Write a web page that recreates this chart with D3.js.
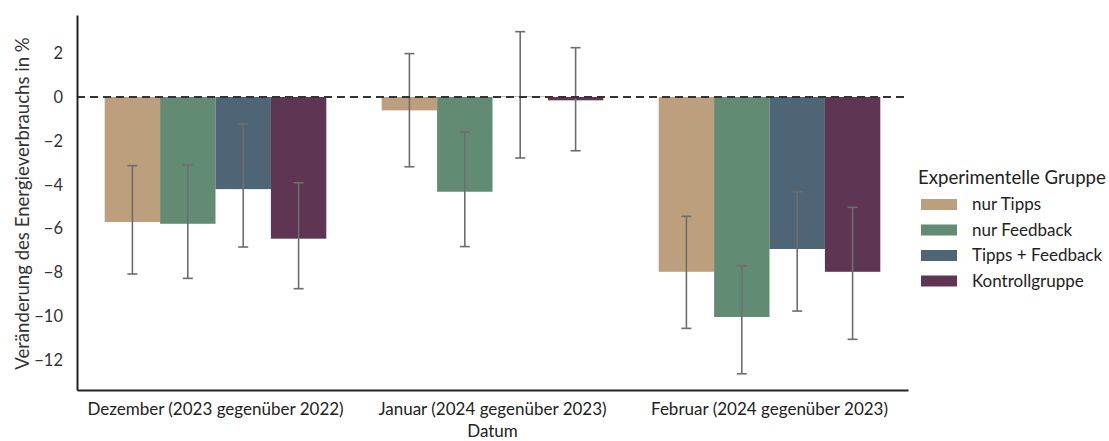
<!DOCTYPE html>
<html>
<head>
<meta charset="utf-8">
<script src="https://cdn.jsdelivr.net/npm/d3@7"></script>
<style>
  html, body { margin: 0; padding: 0; background: #fff; }
  svg { display: block; font-family: Lato, "Noto Sans", sans-serif; }
</style>
</head>
<body>
<svg id="chart" width="1109" height="441"></svg>
<script>
// Monthly change in energy consumption per experimental group, with confidence intervals
const months = ["Dezember (2023 gegenüber 2022)", "Januar (2024 gegenüber 2023)", "Februar (2024 gegenüber 2023)"];
const groups = ["nur Tipps", "nur Feedback", "Tipps + Feedback", "Kontrollgruppe"];
const colors = ["#bca07d", "#628b74", "#4e6575", "#5e3654"];

// mean change in %, one array per group (Dez, Jan, Feb)
const nurTipps       = [-5.70, -0.61, -7.97];
const nurFeedback    = [-5.78, -4.32, -10.03];
const tippsFeedback  = [-4.20,  0.02, -6.93];
const kontrollgruppe = [-6.46, -0.15, -7.97];

// interval bounds (upper / lower)
const nurTippsHi       = [-3.13,  1.98, -5.44];
const nurTippsLo       = [-8.07, -3.18, -10.55];
const nurFeedbackHi    = [-3.10, -1.60, -7.69];
const nurFeedbackLo    = [-8.27, -6.82, -12.62];
const tippsFeedbackHi  = [-1.23,  2.98, -4.32];
const tippsFeedbackLo  = [-6.84, -2.78, -9.76];
const kontrollgruppeHi = [-3.91,  2.25, -5.03];
const kontrollgruppeLo = [-8.74, -2.45, -11.05];

const yTicks = [2, 0, -2, -4, -6, -8, -10, -12];

const means = [nurTipps, nurFeedback, tippsFeedback, kontrollgruppe];
const his = [nurTippsHi, nurFeedbackHi, tippsFeedbackHi, kontrollgruppeHi];
const los = [nurTippsLo, nurFeedbackLo, tippsFeedbackLo, kontrollgruppeLo];

const rows = [];
groups.forEach((g, gi) => months.forEach((m, mi) => {
  rows.push({ month: m, group: g, gi, value: means[gi][mi], hi: his[gi][mi], lo: los[gi][mi] });
}));

const svg = d3.select("#chart");
const margin = { left: 77, right: 201, top: 15, bottom: 51 };
const W = 1109, H = 441;

const x = d3.scaleBand().domain(months).range([margin.left, W - margin.right]).paddingInner(0.2).paddingOuter(0.1);
const xg = d3.scaleBand().domain(groups).range([0, x.bandwidth()]);
const y = d3.scaleLinear().domain([-13.36, 3.74]).range([H - margin.bottom, margin.top]);
const color = d3.scaleOrdinal().domain(groups).range(colors);

// bars
svg.append("g").selectAll("rect").data(rows).join("rect")
  .attr("x", d => x(d.month) + xg(d.group))
  .attr("width", xg.bandwidth())
  .attr("y", d => y(Math.max(0, d.value)))
  .attr("height", d => Math.abs(y(d.value) - y(0)))
  .attr("fill", d => color(d.group));

// error bars
const eb = svg.append("g").attr("stroke", "#6d6d6d").attr("stroke-width", 1.6).attr("fill", "none");
const cap = 5;
rows.forEach(d => {
  const cx = x(d.month) + xg(d.group) + xg.bandwidth() / 2;
  eb.append("line").attr("x1", cx).attr("x2", cx).attr("y1", y(d.hi)).attr("y2", y(d.lo));
  eb.append("line").attr("x1", cx - cap).attr("x2", cx + cap).attr("y1", y(d.hi)).attr("y2", y(d.hi));
  eb.append("line").attr("x1", cx - cap).attr("x2", cx + cap).attr("y1", y(d.lo)).attr("y2", y(d.lo));
});

// zero reference line
svg.append("line")
  .attr("x1", margin.left).attr("x2", W - margin.right)
  .attr("y1", y(0)).attr("y2", y(0))
  .attr("stroke", "#333").attr("stroke-width", 2).attr("stroke-dasharray", "8,5");

// y axis
const yAxis = svg.append("g").attr("transform", `translate(${margin.left},0)`)
  .call(d3.axisLeft(y).tickValues(yTicks).tickSize(0).tickPadding(14)
    .tickFormat(d => d < 0 ? "\u2212" + Math.abs(d) : String(d)));
yAxis.select(".domain").attr("stroke", "#222").attr("stroke-width", 2);
yAxis.selectAll("text").attr("font-size", 16.5).attr("fill", "#333").attr("font-family", "Lato, sans-serif");

// x axis
const xAxis = svg.append("g").attr("transform", `translate(0,${H - margin.bottom})`)
  .call(d3.axisBottom(x).tickSize(0).tickPadding(13));
xAxis.select(".domain").attr("stroke", "#222").attr("stroke-width", 2);
xAxis.selectAll("text").attr("font-size", 17).attr("fill", "#222").attr("font-family", "Lato, sans-serif");

// axis titles
svg.append("text").attr("x", (margin.left + W - margin.right) / 2).attr("y", 437)
  .attr("text-anchor", "middle").attr("font-size", 17).attr("fill", "#222").text("Datum");
svg.append("text")
  .attr("transform", `translate(29,${(margin.top + H - margin.bottom) / 2 + 1}) rotate(-90)`)
  .attr("text-anchor", "middle").attr("font-size", 18.6).attr("fill", "#333")
  .text("Veränderung des Energieverbrauchs in %");

// legend
const lg = svg.append("g").attr("transform", "translate(918,0)");
lg.append("text").attr("x", 0).attr("y", 184).attr("font-size", 18.6).attr("fill", "#222").text("Experimentelle Gruppe");
groups.forEach((g, i) => {
  const yy = 204 + i * 25.5;
  lg.append("rect").attr("x", 3).attr("y", yy - 5).attr("width", 36).attr("height", 11).attr("fill", colors[i]);
  lg.append("text").attr("x", 54).attr("y", yy + 6).attr("font-size", 17).attr("fill", "#222").text(g);
});
</script>
</body>
</html>
